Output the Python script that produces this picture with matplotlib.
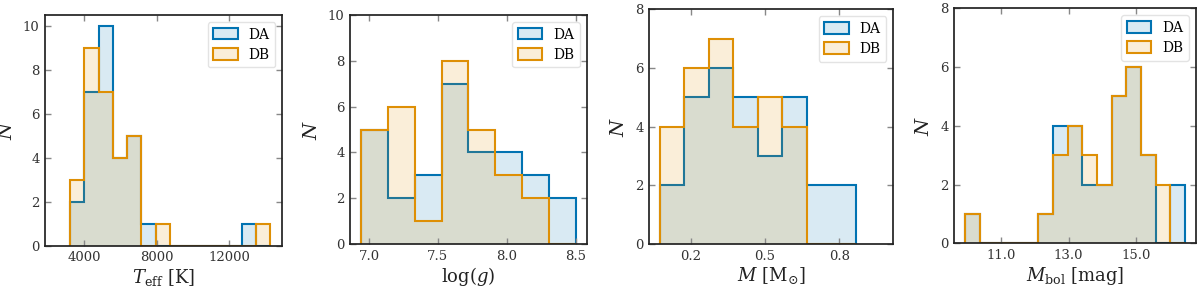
import numpy as np
import matplotlib
matplotlib.use("Agg")
import matplotlib.pyplot as plt

# ---------------- data ----------------
labels = ["DA", "DB"]

teff_range = (3210, 14270)
teff_nbins = 14
teff_DA = [2, 7, 10, 4, 5, 1, 0, 0, 0, 0, 0, 0, 1, 0]
teff_DB = [3, 9, 7, 4, 5, 0, 1, 0, 0, 0, 0, 0, 0, 1]
teff_ticks = [4000, 8000, 12000]

logg_range = (6.942, 8.5)
logg_nbins = 8
logg_DA = [5, 2, 3, 7, 4, 4, 3, 2]
logg_DB = [5, 6, 1, 8, 5, 3, 2, 0]
logg_ticks = [7.0, 7.5, 8.0, 8.5]

mass_range = (0.075, 0.866)
mass_nbins = 8
mass_DA = [2, 5, 6, 5, 3, 5, 2, 2]
mass_DB = [4, 6, 7, 4, 5, 4, 0, 0]
mass_ticks = [0.2, 0.5, 0.8]

mbol_range = (9.923, 16.462)
mbol_nbins = 15
mbol_DA = [1, 0, 0, 0, 0, 1, 4, 4, 2, 2, 5, 6, 3, 0, 2]
mbol_DB = [1, 0, 0, 0, 0, 1, 3, 4, 3, 2, 5, 6, 3, 2, 0]
mbol_ticks = [11.0, 13.0, 15.0]

xlabels = [r"$T_{\rm eff}$ [K]", r"$\log(g)$", r"$M$ [M$_{\odot}$]", r"$M_{\rm bol}$ [mag]"]

# ---------------- style ----------------
plt.rcParams["font.family"] = ["DejaVu Serif"]
plt.rcParams["mathtext.fontset"] = "dejavuserif"

c_DA = "#0173B2"
c_DB = "#DE8F05"
fill_alpha = 0.15

fig = plt.figure(figsize=(12, 2.88), dpi=100)

rects = [
    (45, 15, 282.3, 245.7),
    (350, 15, 586.7, 244),
    (649, 9.3, 893.3, 244),
    (954.3, 8.3, 1196, 243.3),
]
W, H = 1200, 288

panels = [
    (teff_range, teff_nbins, teff_DA, teff_DB, teff_ticks, (1830, 14940), (0, 10.5), "{:.0f}"),
    (logg_range, logg_nbins, logg_DA, logg_DB, logg_ticks, (6.862, 8.58), (0, 10), "{:.1f}"),
    (mass_range, mass_nbins, mass_DA, mass_DB, mass_ticks, (0.032, 1.018), (0, 8), "{:.1f}"),
    (mbol_range, mbol_nbins, mbol_DA, mbol_DB, mbol_ticks, (9.60, 16.79), (0, 8), "{:.1f}"),
]

for (rng, nb, da, db, xt, xl, yl, fmt), (x0, y0, x1, y1), xlab in zip(panels, rects, xlabels):
    ax = fig.add_axes([x0 / W, (H - y1) / H, (x1 - x0) / W, (y1 - y0) / H])
    edges = np.linspace(rng[0], rng[1], nb + 1)
    for counts, col, lab in ((da, c_DA, labels[0]), (db, c_DB, labels[1])):
        ax.stairs(counts, edges, fill=True, facecolor=(matplotlib.colors.to_rgba(col, fill_alpha)),
                  edgecolor=col, linewidth=1.5, label=lab)
    ax.set_xlim(*xl)
    ax.set_ylim(*yl)
    ax.set_xticks(xt)
    ax.set_xticklabels([fmt.format(v) for v in xt])
    ax.set_yticks(np.arange(0, yl[1] + 0.01, 2))
    ax.tick_params(direction="in", top=True, right=True, length=4, width=1,
                   color="#888888", labelsize=9.5, labelcolor="#333333", pad=4)
    for s in ax.spines.values():
        s.set_color("#222222")
        s.set_linewidth(1.25)
    ax.set_xlabel(xlab, fontsize=13, color="#222222", labelpad=2)
    ax.set_ylabel(r"$N$", fontsize=14, color="#222222", labelpad=5)
    leg = ax.legend(loc="upper right", fontsize=10, frameon=True, fancybox=True,
                    handlelength=1.75, handleheight=0.9, labelspacing=0.45,
                    borderpad=0.4, handletextpad=0.8)
    leg.get_frame().set_edgecolor("#dddddd")

fig.savefig("out.png", dpi=100)
